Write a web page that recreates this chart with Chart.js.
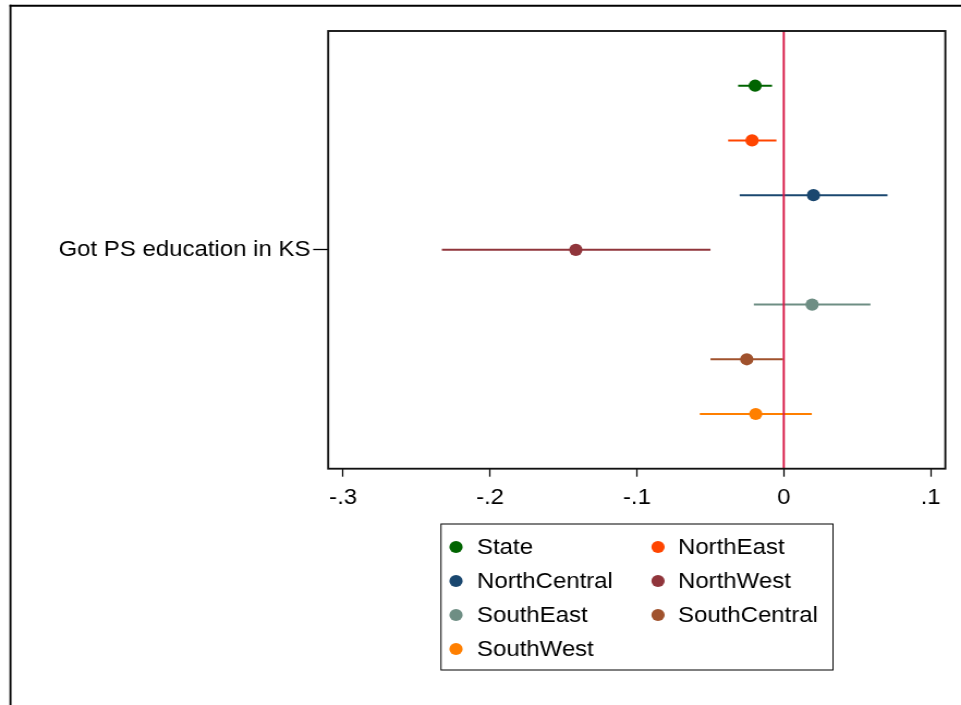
<!DOCTYPE html>
<html>
<head>
<meta charset="utf-8">
<script src="https://cdn.jsdelivr.net/npm/chart.js@4/dist/chart.umd.min.js"></script>
<style>
  html, body { margin: 0; padding: 0; background: #fff; overflow: hidden; }
  /* Graph is laid out on a slightly narrower canvas and widened to the page */
  #wrap { width: 882px; height: 705px; transform: scaleX(1.0896); transform-origin: 0 0; }
  canvas { display: block; }
</style>
</head>
<body>
<div id="wrap"><canvas id="c" width="882" height="705"></canvas></div>
<script>
// Coefficient estimates with 95% confidence intervals, by region
const groups    = ['State', 'NorthEast', 'NorthCentral', 'NorthWest', 'SouthEast', 'SouthCentral', 'SouthWest'];
const estimates = [-0.0195, -0.0216,  0.0202, -0.1416,  0.0193, -0.0252, -0.0191];
const ciLower   = [-0.0311, -0.0379, -0.0300, -0.2328, -0.0204, -0.0499, -0.0572];
const ciUpper   = [-0.0080, -0.0050,  0.0706, -0.0499,  0.0590, -0.0005,  0.0191];
const colors    = ['#006400', '#ff4500', '#1a476f', '#90353b', '#6e8e84', '#a0522d', '#ff7f00'];
const xTicks      = [-0.3, -0.2, -0.1, 0, 0.1];
const xTickLabels = ['-.3', '-.2', '-.1', '0', '.1'];
const rowLabel  = 'Got PS education in KS';
const refValue  = 0;

const FONT = '"Liberation Sans", Arial, Helvetica, sans-serif';
const SX = 1.0896;               // horizontal widening applied to the canvas

const datasets = [];
// reference line at zero
datasets.push({
  type: 'line',
  data: [{ x: refValue, y: 0 }, { x: refValue, y: groups.length + 1 }],
  borderColor: '#d81b48',
  borderWidth: 1.9,
  pointRadius: 0,
  order: 0
});
groups.forEach((g, i) => {
  const row = i + 1;
  datasets.push({
    type: 'line',
    label: g + ' CI',
    data: [{ x: ciLower[i], y: row }, { x: ciUpper[i], y: row }],
    borderColor: colors[i],
    borderWidth: 2,
    pointRadius: 0,
    order: 2
  });
  datasets.push({
    type: 'scatter',
    label: g,
    data: [{ x: estimates[i], y: row }],
    backgroundColor: colors[i],
    borderWidth: 0,
    pointRadius: 6.1,
    pointHoverRadius: 6.1,
    order: 1
  });
});

// plot frame, outer graph border and the two-column legend
const decor = {
  id: 'decor',
  afterDraw(chart) {
    const ctx = chart.ctx;
    const a = chart.chartArea;
    ctx.save();
    // plot region box
    ctx.strokeStyle = '#111';
    ctx.lineWidth = 1.85;
    ctx.strokeRect(a.left, a.top, a.right - a.left, a.bottom - a.top);

    // outer graph border (top and left edges)
    ctx.strokeStyle = '#000';
    ctx.lineWidth = 2;
    ctx.beginPath();
    ctx.moveTo(8.7, 5.7);
    ctx.lineTo(chart.width, 5.7);
    ctx.stroke();
    ctx.lineWidth = 1.85;
    ctx.beginPath();
    ctx.moveTo(9.6, 4.7);
    ctx.lineTo(9.6, chart.height);
    ctx.stroke();

    // legend
    const boxL = 441 / SX, boxR = 833 / SX, boxT = 524, boxB = 670;
    ctx.fillStyle = '#fff';
    ctx.fillRect(boxL, boxT, boxR - boxL, boxB - boxT);
    ctx.strokeStyle = '#000';
    ctx.lineWidth = 1;
    ctx.strokeRect(boxL, boxT, boxR - boxL, boxB - boxT);
    const markX = [456 / SX, 658 / SX];
    const textX = [477 / SX, 678 / SX];
    ctx.font = '22px ' + FONT;
    ctx.textBaseline = 'middle';
    ctx.textAlign = 'left';
    groups.forEach((g, i) => {
      const col = i % 2, r = Math.floor(i / 2);
      const y = 547 + r * 34;
      ctx.fillStyle = colors[i];
      ctx.beginPath();
      ctx.arc(markX[col], y, 6.1, 0, Math.PI * 2);
      ctx.fill();
      ctx.fillStyle = '#000';
      ctx.fillText(g, textX[col], y + 1);
    });
    ctx.restore();
  }
};

new Chart(document.getElementById('c'), {
  data: { datasets },
  options: {
    responsive: false,
    devicePixelRatio: 1,
    animation: false,
    layout: { padding: { left: 0, top: 31, right: 14.4, bottom: 176.3 } },
    plugins: { legend: { display: false }, tooltip: { enabled: false } },
    scales: {
      x: {
        type: 'linear',
        min: -0.3102,
        max: 0.1100,
        afterBuildTicks: s => { s.ticks = xTicks.map(v => ({ value: v })); },
        afterFit: s => { s.height = 60; },
        border: { display: false },
        grid: { display: true, drawOnChartArea: false, drawTicks: true, tickLength: 8, tickColor: '#000', tickWidth: 1.25 },
        ticks: {
          color: '#000',
          font: { family: FONT, size: 22 },
          padding: 8,
          maxRotation: 0,
          autoSkip: false,
          callback: (v, i) => xTickLabels[i]
        }
      },
      y: {
        type: 'linear',
        min: 0,
        max: groups.length + 1,
        reverse: true,
        afterBuildTicks: s => { s.ticks = [{ value: (groups.length + 1) / 2 }]; },
        afterFit: s => { s.width = 301.2; },
        border: { display: false },
        grid: { display: true, drawOnChartArea: false, drawTicks: true, tickLength: 13.8, tickColor: '#000', tickWidth: 1.3 },
        ticks: {
          color: '#000',
          font: { family: FONT, size: 22 },
          padding: 2.5,
          autoSkip: false,
          callback: () => rowLabel
        }
      }
    }
  },
  plugins: [decor]
});
</script>
</body>
</html>
